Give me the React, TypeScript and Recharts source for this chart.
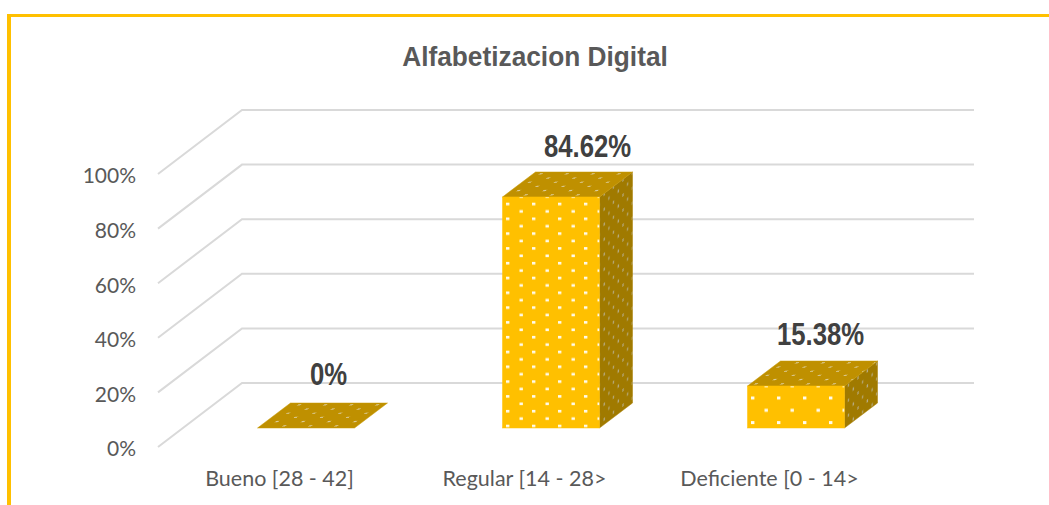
import React from "react";
import { BarChart, Bar, XAxis, YAxis, CartesianGrid, LabelList } from "recharts";

const categories = ["Bueno [28 - 42]", "Regular [14 - 28>", "Deficiente [0 - 14>"];
const values = [0, 0.8462, 0.1538];
const valueLabels = ["0%", "84.62%", "15.38%"];
const yTicks = [0, 0.2, 0.4, 0.6, 0.8, 1];
const chartTitle = "Alfabetizacion Digital";

const tableData = categories.map((name, i) => ({ name, value: values[i], label: valueLabels[i] }));

const W = 1049;
const H = 505;
const BAR_DX = 25.5, BAR_DY = -19;   // bars stand inside the 3D floor
const DEPTH_DX = 33, DEPTH_DY = -25; // depth of a bar
const WALL_DX = 84, WALL_DY = -64;  // depth of the chart walls
const GRID_RIGHT = 974;
const LABEL_NUDGE_X = [48, 62, 50];
const LABEL_NUDGE_Y = [-62, -59, -60];

function Bar3D(props: any) {
  const { x, y, width, height } = props;
  const l = x + BAR_DX, t = y + BAR_DY, r = l + width, b = t + height;
  const top = `${l},${t} ${r},${t} ${r + DEPTH_DX},${t + DEPTH_DY} ${l + DEPTH_DX},${t + DEPTH_DY}`;
  const side = `${r},${t} ${r + DEPTH_DX},${t + DEPTH_DY} ${r + DEPTH_DX},${b + DEPTH_DY} ${r},${b}`;
  const front = height > 100 ? "url(#dotsFrontTall)" : "url(#dotsFrontShort)";
  return (
    <g>
      {height > 0 && <polygon points={side} fill="url(#dotsSide)" stroke="#A87F00" strokeWidth={0.5} />}
      <polygon points={top} fill="url(#dotsTop)" stroke="#C99800" strokeWidth={0.5} />
      {height > 0 && <rect x={l} y={t} width={width} height={height} fill={front} stroke="#FFC000" strokeWidth={0.5} />}
    </g>
  );
}

function GridLine(props: any) {
  const { x1, y1 } = props;
  const bx = x1 + WALL_DX, by = y1 + WALL_DY;
  return (
    <polyline points={`${x1},${y1} ${bx},${by} ${GRID_RIGHT},${by}`} fill="none" stroke="#D9D9D9" strokeWidth={2} />
  );
}

function ValueLabel(props: any) {
  const { x, y, width, index, value } = props;
  const cx = x + width / 2 + LABEL_NUDGE_X[index];
  const by = y + LABEL_NUDGE_Y[index];
  return (
    <text
      transform={`translate(${cx},${by}) scale(0.83,1)`}
      textAnchor="middle"
      fontFamily="'Liberation Sans', sans-serif"
      fontWeight="bold"
      fontSize={31}
      fill="#404040"
    >
      {value}
    </text>
  );
}

export default function App() {
  return (
    <div style={{ position: "absolute", left: 0, top: 0, width: W, height: H, overflow: "hidden", background: "#fff" }}>
      <div style={{ position: "absolute", left: 7, top: 14, width: W, height: H, borderLeft: "4px solid #FFC000", borderTop: "3px solid #FFC000" }} />
      <div style={{ position: "absolute", left: 0, top: 40, width: 1070, textAlign: "center", fontFamily: "'Liberation Sans', sans-serif", fontWeight: "bold", fontSize: 27.5, lineHeight: "34px", color: "#595959", transform: "scaleX(0.955)" }}>
        {chartTitle}
      </div>
      <BarChart
        width={W}
        height={H}
        data={tableData}
        margin={{ top: 174, bottom: 28, left: 88, right: 156 }}
        barSize={97}
        style={{ position: "absolute", left: 0, top: 0 }}
      >
        <defs>
          <pattern id="dotsFrontTall" patternUnits="userSpaceOnUse" width="26" height="14.8" x="506" y="202.7">
            <rect width="26" height="14.8" fill="#FFC000" />
            <rect x="0" y="0" width="3.4" height="2.6" fill="#FFFBEB" />
            <rect x="13.5" y="7.4" width="3.4" height="2.6" fill="#FFFBEB" />
          </pattern>
          <pattern id="dotsFrontShort" patternUnits="userSpaceOnUse" width="26" height="24.6" x="751" y="396.5">
            <rect width="26" height="24.6" fill="#FFC000" />
            <rect x="0" y="0" width="3.4" height="3" fill="#FFFBEB" />
            <rect x="13.5" y="12.3" width="3.4" height="3" fill="#FFFBEB" />
          </pattern>
          <pattern id="dotsTop" patternUnits="userSpaceOnUse" width="26" height="8.4" patternTransform="skewX(-53)">
            <rect width="26" height="8.4" fill="#BF9000" />
            <rect x="3" y="1" width="3" height="1.2" fill="#DCCB95" />
            <rect x="16" y="5.2" width="3" height="1.2" fill="#DCCB95" />
          </pattern>
          <pattern id="dotsSide" patternUnits="userSpaceOnUse" width="9.4" height="15" patternTransform="skewY(-37)">
            <rect width="9.4" height="15" fill="#A07A00" />
            <rect x="2" y="3" width="1.2" height="3" fill="#B8AE88" />
            <rect x="6.7" y="10.5" width="1.2" height="3" fill="#B8AE88" />
          </pattern>
        </defs>
        <CartesianGrid vertical={false} horizontal={(p: any) => <GridLine key={p.key ?? p.index} {...p} />} />
        <XAxis
          dataKey="name"
          axisLine={false}
          tickLine={false}
          interval={0}
          tickMargin={18}
          tick={{ fontFamily: "Lato, sans-serif", fontSize: 21.5, fill: "#595959", dx: -1 }}
        />
        <YAxis
          domain={[0, 1]}
          ticks={yTicks}
          width={70}
          axisLine={false}
          tickLine={false}
          tickMargin={16}
          tickFormatter={(v: number) => `${Math.round(v * 100)}%`}
          tick={{ fontFamily: "Lato, sans-serif", fontSize: 21, fill: "#595959", dy: 2 }}
        />
        <Bar dataKey="value" isAnimationActive={false} shape={<Bar3D />}>
          <LabelList dataKey="label" content={<ValueLabel />} />
        </Bar>
      </BarChart>
    </div>
  );
}
